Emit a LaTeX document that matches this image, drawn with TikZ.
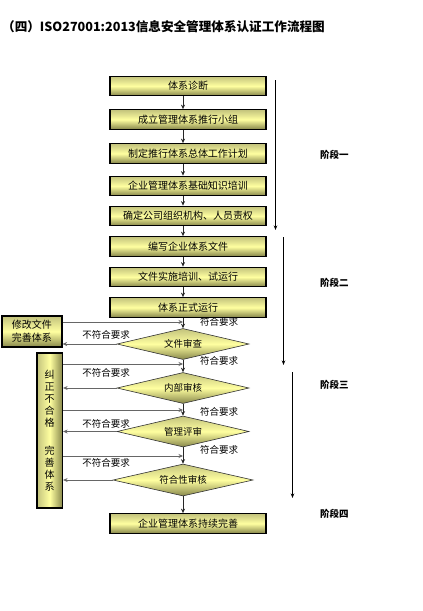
\documentclass[tikz,border=0pt]{standalone}
\usepackage{fontspec}
\setmainfont{Noto Sans CJK SC}
\usetikzlibrary{shapes.geometric,arrows.meta}
\definecolor{oltop}{RGB}{195,195,125}
\definecolor{olmid}{RGB}{255,255,160}
\definecolor{olbot}{RGB}{135,135,75}
\tikzset{
  stepbox/.style={draw=black, line width=1.2pt, top color=oltop, bottom color=olbot, middle color=olmid,
    minimum width=156pt, minimum height=19.5pt, inner sep=0pt, font=\fontsize{10}{11}\selectfont},
  sidebox/.style={draw=black, line width=1.2pt, top color=oltop, bottom color=olbot, middle color=olmid,
    inner sep=0pt, align=center, font=\fontsize{10}{13}\selectfont},
  vbox/.style={draw=black, line width=1.2pt, left color=oltop, right color=olbot, middle color=olmid,
    inner sep=0pt, align=center, font=\fontsize{10}{12.2}\selectfont},
  decision/.style={diamond, draw=black!80, line width=0.6pt, top color=oltop, bottom color=olbot, middle color=olmid,
    aspect=4, inner sep=0pt, minimum width=132pt, minimum height=31pt, font=\fontsize{9.5}{10}\selectfont},
  flow/.style={draw=black!85, line width=0.8pt, -{Stealth[length=4.5pt,width=4pt]}},
  side/.style={draw=black!60, line width=0.9pt, -{Stealth[length=4.5pt,width=4pt]}},
  stage/.style={draw=black, line width=0.7pt, -{Stealth[length=4.5pt,width=3.5pt]}},
  lab/.style={font=\fontsize{9.5}{10}\selectfont, inner sep=0pt},
  phase/.style={font=\bfseries\fontsize{9.5}{10}\selectfont, inner sep=0pt, anchor=west},
  ttl/.style={font=\bfseries\fontsize{12.6}{14}\selectfont, inner sep=0pt, anchor=west}
}
\begin{document}
\begin{tikzpicture}[x=1pt,y=-1pt]
\useasboundingbox (0,0) rectangle (423,611);
\fill[white] (0,0) rectangle (423,611);

\node[ttl] (title) at (2,27) {（四）ISO27001:2013信息安全管理体系认证工作流程图};

\coordinate (ax) at (183,0);

\node[stepbox] (b1) at (188,86) {体系诊断};
\node[stepbox] (b2) at (188,119.5) {成立管理体系推行小组};
\node[stepbox] (b3) at (188,153.5) {制定推行体系总体工作计划};
\node[stepbox] (b4) at (188,186) {企业管理体系基础知识培训};
\node[stepbox] (b5) at (188,216) {确定公司组织机构、人员责权};
\node[stepbox] (b6) at (188,246.5) {编写企业体系文件};
\node[stepbox] (b7) at (188,277) {文件实施培训、试运行};
\node[stepbox] (b8) at (188,307.5) {体系正式运行};

\node[decision] (d1) at (183,344) {文件审查};
\node[decision] (d2) at (183,388) {内部审核};
\node[decision] (d3) at (183,431.5) {管理评审};
\node[decision, minimum width=140pt, minimum height=32pt] (d4) at (183,480) {符合性审核};

\node[stepbox] (fin) at (188,523.5) {企业管理体系持续完善};

\node[sidebox, minimum width=60pt, minimum height=31pt] (m) at (32,331.5) {修改文件\\完善体系};
\node[vbox, minimum width=25.5pt, minimum height=155pt] (c) at (49.75,430.5)
  {纠\\正\\不\\合\\格\\[15pt]完\\善\\体\\系};

% main flow
\draw[flow] (b1.south -| ax) -- (b2.north -| ax);
\draw[flow] (b2.south -| ax) -- (b3.north -| ax);
\draw[flow] (b3.south -| ax) -- (b4.north -| ax);
\draw[flow] (b4.south -| ax) -- (b5.north -| ax);
\draw[flow] (b5.south -| ax) -- (b6.north -| ax);
\draw[flow] (b6.south -| ax) -- (b7.north -| ax);
\draw[flow] (b7.south -| ax) -- (b8.north -| ax);
\draw[flow] (b8.south -| ax) -- (d1.north);
\draw[flow] (d1.south) -- (d2.north);
\draw[flow] (d2.south) -- (d3.north);
\draw[flow] (d3.south) -- (d4.north);
\draw[flow] (d4.south) -- (fin.north -| ax);

% feedback in
\coordinate (i1) at (183,322);
\coordinate (i2) at (183,364);
\coordinate (i3) at (183,410);
\coordinate (i4) at (183,456);
\draw[side] (m.east |- i1) -- (i1);
\draw[side] (c.east |- i2) -- (i2);
\draw[side] (c.east |- i3) -- (i3);
\draw[side] (c.east |- i4) -- (i4);

% rejections out
\draw[side] (d1.west) -- (m.east |- d1.west);
\draw[side] (d2.west) -- (c.east |- d2.west);
\draw[side] (d3.west) -- (c.east |- d3.west);
\draw[side] (d4.west) -- (c.east |- d4.west);

% labels
\node[lab] (n1) at (106,335) {不符合要求};
\node[lab] (n2) at (106,373) {不符合要求};
\node[lab] (n3) at (106,424) {不符合要求};
\node[lab] (n4) at (106,463) {不符合要求};
\node[lab, anchor=west] (y1) at (200,322) {符合要求};
\node[lab, anchor=west] (y2) at (200,361) {符合要求};
\node[lab, anchor=west] (y3) at (200,412) {符合要求};
\node[lab, anchor=west] (y4) at (200,450) {符合要求};

% stages
\coordinate (s1a) at (275.5,80);
\coordinate (s1b) at (275.5,230);
\coordinate (s2a) at (283.5,237);
\coordinate (s2b) at (283.5,365);
\coordinate (s3a) at (292.5,372);
\coordinate (s3b) at (292.5,498);
\draw[stage] (s1a) -- (s1b);
\draw[stage] (s2a) -- (s2b);
\draw[stage] (s3a) -- (s3b);
\node[phase] (p1) at (320,155) {阶段一};
\node[phase] (p2) at (320,283) {阶段二};
\node[phase] (p3) at (320,385) {阶段三};
\node[phase] (p4) at (320,514) {阶段四};
\end{tikzpicture}
\end{document}
